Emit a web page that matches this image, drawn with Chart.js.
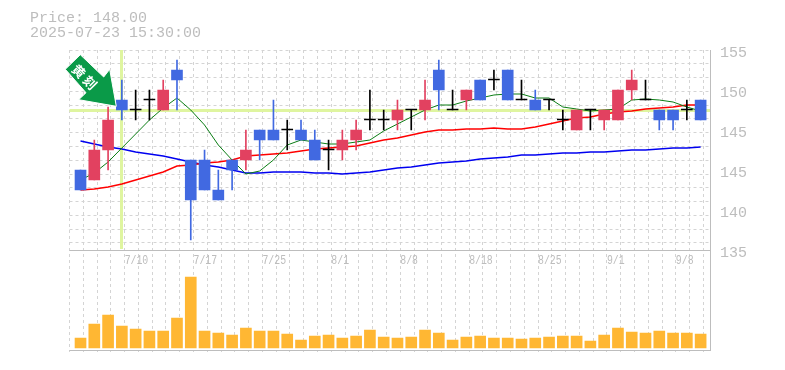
<!DOCTYPE html>
<html lang="en">
<head>
<meta charset="UTF-8">
<title>Price chart</title>
<script src="https://cdn.jsdelivr.net/npm/chart.js@4/dist/chart.umd.min.js"></script>
<style>
  html, body { margin: 0; padding: 0; background: #fff; }
  #wrap { width: 785px; height: 370px; }
</style>
</head>
<body>
<div id="wrap"><canvas id="myChart" width="785" height="370"></canvas></div>
<script>
const opens  = [142,141,144,149,148,149,148,152,143,143,140,143,143,146,146,146,146,145,144,144,145,147,147,147,148,148,152,148,149,151,151,152,149,149,149,147,146,148,147,147,150,149,148,148,148,149];
const closes = [140,144,147,148,148,149,150,151,139,140,139,142,144,145,145,146,145,143,144,145,146,147,147,148,148,149,150,148,150,149,151,149,149,148,149,147,148,148,148,150,151,149,147,147,148,147];
const highs  = [142,145,148.3,151,150,150,151,153,143,144,142,143,146,146,149,147,147,146,145,146,147,150,148,149,148,151,153,150,150,151,152,152,151,150,149,148,148,148,148,150,152,151,148,148,149,149];
const lows   = [140,141,142,147,147,147,148,148,135,140,139,140,142,143,145,144,145,143,142,143,144,146,146,146,146,147,148,148,148,149,150,149,149,148,148,146,146,146,146,147,149,149,146,146,147,147];
const maShort = [141,141.7,142.8,144.2,145.6,147,148.2,149.2,148,146.5,144.5,143,141.6,141.9,143,144.5,145,144.8,144.6,144.6,144.8,145,145.9,146.6,147.3,148,148.5,148.5,148.9,149.2,149.5,149.6,149.6,149.2,149.2,148.3,148.1,147.9,148,148.1,149,149.1,149,148.8,148.3,147.9];
const maMid   = [140,140.1,140.3,140.6,141,141.4,141.8,142.4,142.5,142.7,142.8,143,143.4,143.5,143.6,143.7,143.9,144.1,144.2,144.3,144.4,144.7,145,145.2,145.5,145.8,146,146,146.1,146.1,146.2,146.1,146.1,146.3,146.6,146.9,147.2,147.3,147.6,147.8,147.9,148.1,148.2,148.3,148.5,148.5];
const maLong  = [144.9,144.6,144.3,144.1,143.8,143.6,143.4,143.1,142.8,142.5,142.3,142,141.7,141.7,141.8,141.8,141.8,141.7,141.7,141.6,141.7,141.8,142,142.2,142.3,142.5,142.7,142.8,142.9,143.1,143.2,143.3,143.5,143.5,143.6,143.7,143.7,143.8,143.8,143.9,144,144,144.1,144.2,144.2,144.3];
const volumes = [10,24,33,22,19,17,17,30,71,17,15,13,20,17,17,14,8,12,13,10,12,18,11,10,11,18,15,8,11,12,10,10,9,10,11,12,12,7,13,20,16,15,17,15,15,14];
const dateLabels = ["7/10","7/17","7/25","8/1","8/8","8/18","8/25","9/1","9/8"];
const dateIndexes = [4,9,14,19,24,29,34,39,44];
const priceLabels = ["155","150","145","145","140","135"];
const priceLabelAt = [153.7,149.7,145.7,141.7,137.7,133.7];
const titleLines = ["Price: 148.00","2025-07-23 15:30:00"];
const markIndex = 3;
const markPrice = 148;

const RED = "#e24160", BLUE = "#4169e1", BLACK = "#000";
const candleColor = opens.map((o, i) => closes[i] > o ? RED : closes[i] < o ? BLUE : BLACK);
const GRAY = "#bdbdbd";

function series(vals) { return vals.map((v, i) => ({x: i, y: v})); }
function maLine(vals, color, w) {
  return {type: "line", data: series(vals), borderColor: color, borderWidth: w, pointRadius: 0, tension: 0, yAxisID: "y", order: 3};
}

// gray frame, highlight lines, arrow and all the text
const overlay = {
  id: "overlay",
  beforeDatasetsDraw(chart) {
    const {ctx, chartArea: a, scales} = chart;
    const px = Math.round(scales.x.getPixelForValue(markIndex)), py = scales.y.getPixelForValue(markPrice);
    ctx.save();
    ctx.fillStyle = "#dff5a0";
    ctx.fillRect(a.left, py - 1, a.right - a.left, 3);
    ctx.fillRect(px - 2, a.top, 3, scales.y.bottom - a.top - 1);
    ctx.strokeStyle = GRAY;
    ctx.lineWidth = 1;
    ctx.beginPath();
    ctx.moveTo(a.left, scales.y.bottom + 0.5); ctx.lineTo(a.right, scales.y.bottom + 0.5);
    ctx.moveTo(a.left, a.bottom + 0.5); ctx.lineTo(a.right, a.bottom + 0.5);
    ctx.moveTo(a.right + 0.5, a.top); ctx.lineTo(a.right + 0.5, a.bottom + 1);
    ctx.stroke();
    ctx.restore();
  },
  afterDraw(chart) {
    const {ctx, scales} = chart;
    ctx.save();
    ctx.textBaseline = "middle";
    ctx.fillStyle = GRAY;
    ctx.font = "15px 'Liberation Mono'";
    ctx.fillText(titleLines[0], 30, 18);
    ctx.fillText(titleLines[1], 30, 33);
    priceLabels.forEach((t, i) => ctx.fillText(t, 720, scales.y.getPixelForValue(priceLabelAt[i])));
    ctx.font = "12px 'Liberation Mono'";
    dateLabels.forEach((t, i) => {
      ctx.save();
      ctx.translate(scales.x.getPixelForValue(dateIndexes[i]) - 11, 261);
      ctx.scale(0.82, 1);
      ctx.fillText(t, 0, 0);
      ctx.restore();
    });

    // arrow
    ctx.beginPath();
    ctx.moveTo(80.3, 54.7); ctx.lineTo(65.3, 69.3); ctx.lineTo(86, 92.7); ctx.lineTo(78.7, 99.7);
    ctx.lineTo(116.3, 106.3); ctx.lineTo(109.7, 69.3); ctx.lineTo(103.7, 77);
    ctx.closePath();
    ctx.fillStyle = "#0a9a48";
    ctx.strokeStyle = "#fff";
    ctx.lineWidth = 1;
    ctx.fill();
    ctx.stroke();
    ctx.translate(84.5, 77);
    ctx.rotate(Math.PI / 4);
    ctx.fillStyle = "#fff";
    ctx.font = "bold 13px 'Noto Sans CJK JP'";
    ctx.textAlign = "center";
    ctx.fillText("黄", -8, 0);
    ctx.fillText("刻", 8, 0);
    ctx.restore();
  }
};

new Chart("myChart", {
  data: {
    datasets: [
      maLine(maShort, "#0a7d14", 1),
      maLine(maMid, "#ff0000", 1.4),
      maLine(maLong, "#0000f0", 1.4),
      {type: "bar", data: highs.map((h, i) => ({x: i, y: [lows[i], h]})), backgroundColor: candleColor, barThickness: 1, grouped: false, yAxisID: "y", order: 2},
      {type: "bar", data: opens.map((o, i) => ({x: i, y: [o, closes[i]]})), backgroundColor: candleColor, barThickness: 11, minBarLength: 1, grouped: false, yAxisID: "y", order: 1},
      {type: "bar", data: series(volumes), backgroundColor: "#ffb733", barThickness: 11, grouped: false, yAxisID: "vol", order: 1}
    ]
  },
  options: {
    responsive: false,
    animation: false,
    layout: {padding: {left: 69.5, top: 50, right: 75, bottom: 18}},
    plugins: {legend: {display: false}, title: {display: false}, tooltip: {enabled: false}},
    scales: {
      x: {
        type: "linear", min: -0.8, max: 45.68, offset: false,
        afterBuildTicks(s) { s.ticks = Array.from({length: 47}, (_, k) => ({value: k - 0.8})); },
        ticks: {display: false},
        border: {display: false, dash: [3, 3]},
        grid: {color: "#d4d4d4", offset: false, tickBorderDash: [3, 3], tickLength: 2}
      },
      y: {
        type: "linear", position: "right", stack: "panels", stackWeight: 2, min: 134, max: 154,
        afterBuildTicks(s) { s.ticks = Array.from({length: 15}, (_, k) => ({value: 154 - k * 1.378})); },
        afterFit(s) { s.width = 0; },
        ticks: {display: false},
        border: {display: false, dash: [3, 3]},
        grid: {color: "#d4d4d4", drawTicks: false}
      },
      vol: {
        type: "linear", position: "right", stack: "panels", stackWeight: 1, min: -2, max: 98,
        afterFit(s) { s.width = 0; },
        ticks: {display: false},
        border: {display: false},
        grid: {display: false}
      }
    }
  },
  plugins: [overlay]
});
</script>
</body>
</html>
